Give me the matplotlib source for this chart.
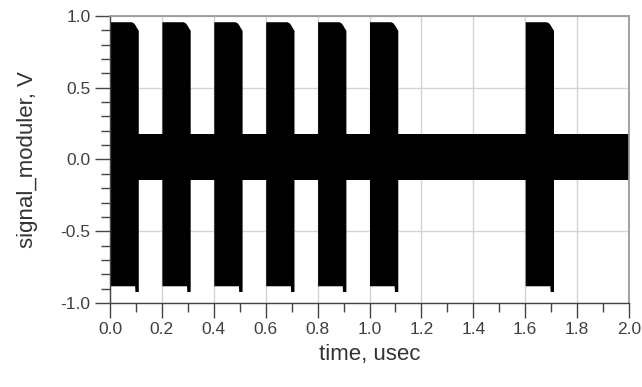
import matplotlib
matplotlib.use("Agg")
import matplotlib.pyplot as plt
from matplotlib.ticker import MultipleLocator
import numpy as np

plt.rcParams['font.family'] = ['Liberation Sans', 'DejaVu Sans']

# time axis range, usec
t_start, t_end = 0.0, 2.0

# low-level carrier envelope (bit "0")
low_top, low_bot = 0.18, -0.14

# high-level bursts (bit "1"), start times in usec
burst_start = [0.0, 0.2, 0.4, 0.6, 0.8, 1.0, 1.6]
# envelope of one burst, times relative to the burst start
burst_t = [0.0, 0.082, 0.092, 0.095, 0.096, 0.102, 0.109]
burst_top = [0.96, 0.96, 0.95, 0.94, 0.94, 0.92, 0.90]
burst_bot = [-0.88, -0.88, -0.88, -0.88, -0.92, -0.92, -0.92]

xticks = [0.0, 0.2, 0.4, 0.6, 0.8, 1.0, 1.2, 1.4, 1.6, 1.8, 2.0]
yticks = [-1.0, -0.5, 0.0, 0.5, 1.0]

fig = plt.figure(figsize=(6.42, 3.87), dpi=100)
ax = fig.add_axes([110/642, 84/387, 519/642, 287/387])

# signal
ax.fill_between([t_start, t_end], low_top, low_bot, color='black', lw=0)
for s in burst_start:
    tt = [s + r for r in burst_t]
    ax.fill_between(tt, burst_top, burst_bot, color='black', lw=0)

ax.set_xlim(t_start, t_end)
ax.set_ylim(-1.0, 1.0)
ax.set_xticks(xticks)
ax.set_yticks(yticks)
ax.set_xticklabels(['%.1f' % v for v in xticks])
ax.set_yticklabels(['%.1f' % v for v in yticks])
ax.xaxis.set_minor_locator(MultipleLocator(0.1))
ax.yaxis.set_minor_locator(MultipleLocator(0.1))

ax.grid(True, which='major', color='#d4d4d4', lw=1.0, zorder=0)
ax.set_axisbelow(True)

ax.tick_params(which='major', direction='out', length=11, width=1.0,
               color='#444444', labelsize=12.5, labelcolor='#404040', pad=3)
ax.tick_params(which='minor', direction='out', length=6.5, width=1.0,
               color='#444444')

for side in ['top', 'right']:
    ax.spines[side].set_color('#999999')
    ax.spines[side].set_linewidth(1.3)
for side in ['left', 'bottom']:
    ax.spines[side].set_color('#444444')
    ax.spines[side].set_linewidth(1.0)

ax.set_xlabel('time, usec', fontsize=16, color='#333333', labelpad=5)
ax.set_ylabel('signal_moduler, V', fontsize=16, color='#333333', labelpad=16)

fig.savefig('out.png', dpi=100)
